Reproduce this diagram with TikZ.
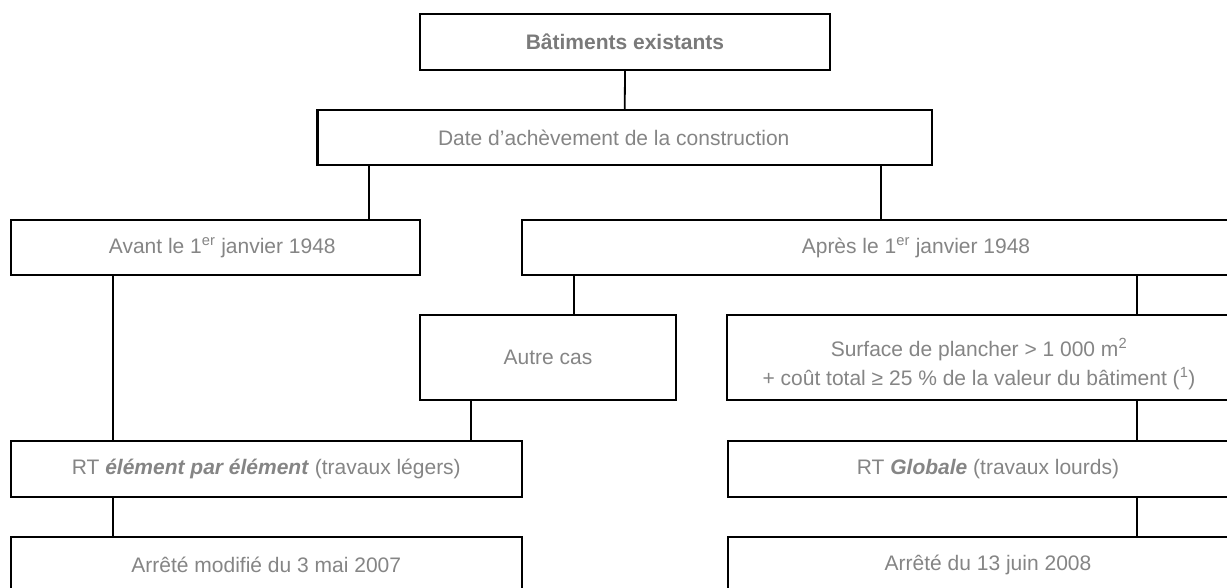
\documentclass[tikz,border=0pt]{standalone}
\usepackage{fontspec}
\setmainfont{Liberation Sans}
\definecolor{txtgray}{HTML}{858585}
\definecolor{boldgray}{HTML}{7A7A7A}
\tikzset{
  box/.style={draw=black, line width=2.2pt, rectangle, inner sep=0pt,
    text=txtgray, font=\fontsize{21pt}{31pt}\selectfont, align=center},
  lbl/.style={inner sep=0pt, text=txtgray, font=\fontsize{21pt}{31pt}\selectfont, align=center},
  conn/.style={draw=black, line width=1.8pt},
}
\begin{document}
\begin{tikzpicture}[x=1pt,y=-1pt]
\useasboundingbox (0,0) rectangle (1227,588);
\clip (0,0) rectangle (1227,588);
\fill[white] (0,0) rectangle (1227,588);

\node[box, minimum width=410pt, minimum height=56pt, text=boldgray] (top) at (625,42) {\textbf{Bâtiments existants}};
\node[box, minimum width=614.5pt, minimum height=55pt] (date) at (624.75,137.5) {Date d’achèvement de la construction\hspace*{22pt}};
\node[box, minimum width=409.3pt, minimum height=55pt] (avant) at (215.3,247.5) {\hspace*{14pt}Avant le 1\textsuperscript{er} janvier 1948};
\node[box, minimum width=788pt, minimum height=55pt] (apres) at (916,247.5) {Après le 1\textsuperscript{er} janvier 1948};
\node[box, minimum width=256pt, minimum height=85pt] (autre) at (548,357.5) {Autre cas};
\node[box, minimum width=508pt, minimum height=85pt] (surface) at (981,357.5) {};
\node[lbl] (surfacetxt) at (979,364) {Surface de plancher > 1 000 m\textsuperscript{2}\\[-2pt]+ coût total ≥ 25 \% de la valeur du bâtiment (\textsuperscript{1})};
\node[box, minimum width=511.3pt, minimum height=56pt] (rtel) at (266.3,469) {RT \textbf{\textit{élément par élément}} (travaux légers)};
\node[box, minimum width=520pt, minimum height=56pt] (rtgl) at (988,469) {RT \textbf{\textit{Globale}} (travaux lourds)};
\node[box, minimum width=511.3pt, minimum height=56pt] (arr1) at (266.3,565) {Arrêté modifié du 3 mai 2007};
\node[box, minimum width=520pt, minimum height=56pt] (arr2) at (988,565) {Arrêté du 13 juin 2008};

\coordinate (xa) at (369,0);
\coordinate (xb) at (881,0);
\coordinate (xc) at (113,0);
\coordinate (xd) at (574,0);
\coordinate (xe) at (1137,0);
\coordinate (xf) at (471,0);

\draw[conn] (top.south) -- (date.north);
\draw[conn] (date.south -| xa) -- (avant.north -| xa);
\draw[conn] (date.south -| xb) -- (apres.north -| xb);
\draw[conn] (avant.south -| xc) -- (rtel.north -| xc);
\draw[conn] (apres.south -| xd) -- (autre.north -| xd);
\draw[conn] (apres.south -| xe) -- (surface.north -| xe);
\draw[conn] (autre.south -| xf) -- (rtel.north -| xf);
\draw[conn] (surface.south -| xe) -- (rtgl.north -| xe);
\draw[conn] (rtel.south -| xc) -- (arr1.north -| xc);
\draw[conn] (rtgl.south -| xe) -- (arr2.north -| xe);
\end{tikzpicture}
\end{document}
